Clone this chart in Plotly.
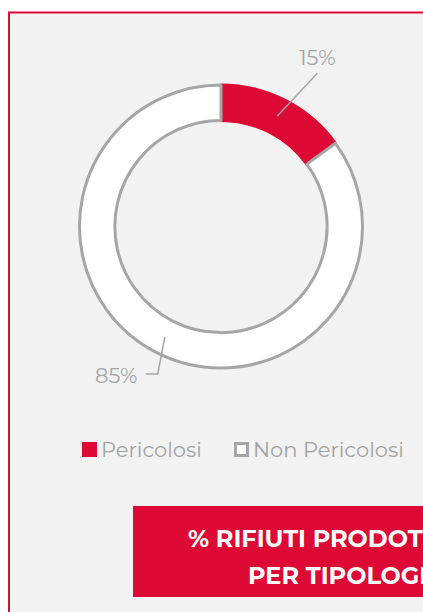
import math
import plotly.graph_objects as go

# ---- data ----
labels = ["Pericolosi", "Non Pericolosi"]
values = [15, 85]
slice_colors = ["#dc0a34", "#ffffff"]
line_colors = ["#dc0a34", "#a6a6a6"]
title_lines = ["% RIFIUTI PRODOTTI", "PER TIPOLOGIA"]

W, H = 423, 612
RED = "#dc0a34"
GRAY = "#a6a6a6"
TXT = "#a3a3a3"
FONT = "Montserrat, 'Open Sans', sans-serif"


def X(px):  # page pixel -> paper
    return px / W


def Y(py):
    return 1 - py / H


# donut geometry (page pixels)
cx, cy, R = 221, 226.5, 141.5
hole = 0.75

fig = go.Figure()
fig.add_trace(go.Pie(
    labels=labels, values=values, sort=False, direction="clockwise", rotation=0,
    hole=hole, textinfo="none", hoverinfo="label+percent", showlegend=False,
    marker=dict(colors=slice_colors, line=dict(color=line_colors, width=3)),
    domain=dict(x=[X(cx - R), X(cx + R)], y=[Y(cy + R), Y(cy - R)]),
))

total = sum(values)
rmid = R * (1 + hole) / 2
shapes = [
    dict(type="rect", xref="paper", yref="paper", x0=X(9), x1=X(700), y0=Y(12.5), y1=Y(900),
         fillcolor="#f2f2f2", line=dict(color=RED, width=2), layer="below"),
    dict(type="rect", xref="paper", yref="paper", x0=X(133), x1=X(800), y0=Y(506), y1=Y(597),
         fillcolor=RED, line=dict(width=0), layer="above"),
]
annotations = []
cum = 0
for i, v in enumerate(values):
    mid = (cum + v / 2) / total * 2 * math.pi
    cum += v
    pct = f"{round(v / total * 100)}%"
    sx, sy = cx + rmid * math.sin(mid), cy - rmid * math.cos(mid)
    if math.sin(mid) >= 0:
        ex, ey = cx + 181 * math.sin(mid + 0.09), cy - 181 * math.cos(mid + 0.09)
        path = f"M{X(sx)},{Y(sy)} L{X(ex)},{Y(ey)}"
        annotations.append(dict(x=X(ex), y=Y(ey - 16), xref="paper", yref="paper", text=pct,
                                showarrow=False, xanchor="center", yanchor="middle",
                                font=dict(family=FONT, size=21, color=TXT)))
    else:
        ey = cy - 165.5 * math.cos(mid)
        ex = sx - 7
        hx = ex - 12
        path = f"M{X(sx)},{Y(sy)} L{X(ex)},{Y(ey)} L{X(hx)},{Y(ey)}"
        annotations.append(dict(x=X(hx - 7), y=Y(ey + 2), xref="paper", yref="paper", text=pct,
                                showarrow=False, xanchor="right", yanchor="middle",
                                font=dict(family=FONT, size=21, color=TXT)))
    shapes.append(dict(type="path", xref="paper", yref="paper", path=path,
                       line=dict(color=GRAY, width=1.5)))

# legend (symbols + labels) built from the series lists
leg_x = [82, 234]
leg_y = 449.5
for lab, fc, lc, lx in zip(labels, slice_colors, line_colors, leg_x):
    bw = 0 if fc == lc else 3
    inset = bw / 2
    shapes.append(dict(type="rect", xref="paper", yref="paper",
                       x0=X(lx + inset), x1=X(lx + 15 - inset),
                       y0=Y(leg_y - 7.5 + inset), y1=Y(leg_y + 7.5 - inset),
                       fillcolor=fc, line=dict(color=lc, width=bw), layer="above"))
    annotations.append(dict(x=X(lx + 17), y=Y(leg_y), xref="paper", yref="paper", text=lab,
                            showarrow=False, xanchor="left", yanchor="middle",
                            font=dict(family=FONT, size=21, color=TXT)))

annotations.append(dict(x=X(186), y=Y(538), xref="paper", yref="paper", text=f"<b>{title_lines[0]}</b>",
                        showarrow=False, xanchor="left", yanchor="middle",
                        font=dict(family=FONT, size=24, color="white")))
annotations.append(dict(x=X(246), y=Y(575), xref="paper", yref="paper", text=f"<b>{title_lines[1]}</b>",
                        showarrow=False, xanchor="left", yanchor="middle",
                        font=dict(family=FONT, size=24, color="white")))

fig.update_layout(
    width=W, height=H, margin=dict(l=0, r=0, t=0, b=0),
    paper_bgcolor="white", plot_bgcolor="rgba(0,0,0,0)",
    showlegend=False,
    shapes=shapes, annotations=annotations,
)

fig.write_html(
    "out.html",
    config={"displayModeBar": False},
    post_script="document.body.style.margin='0';document.documentElement.style.overflow='hidden';",
)
